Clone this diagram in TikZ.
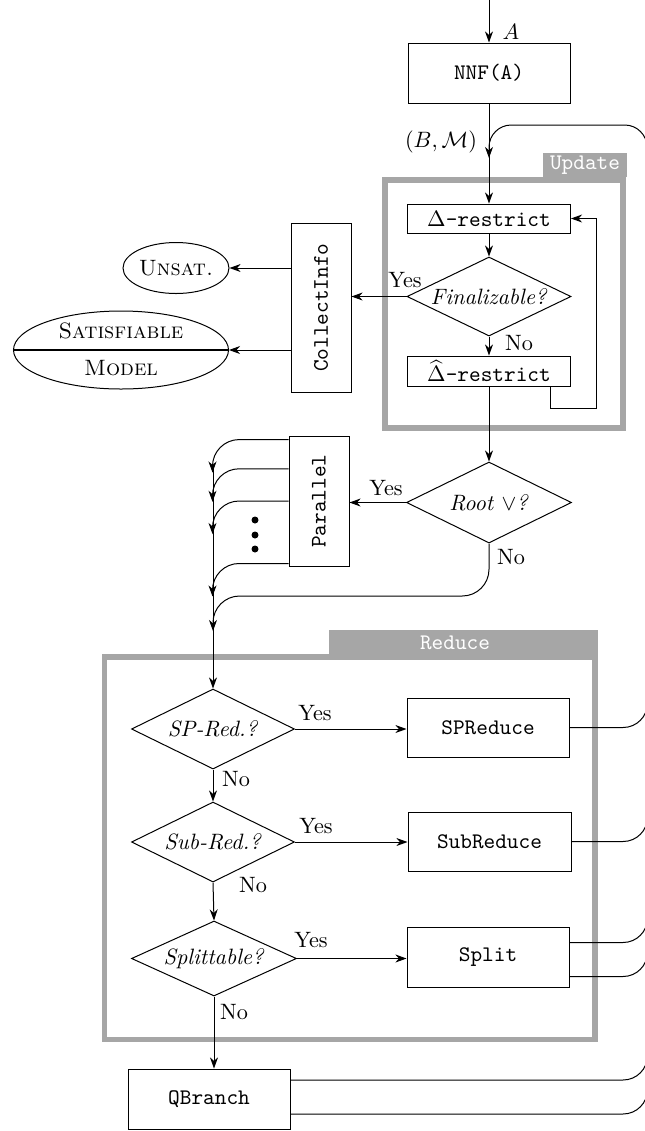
\documentclass[tikz,border=0pt]{standalone}
\usepackage{graphicx}
\usetikzlibrary{shapes.geometric,arrows.meta,calc}
\definecolor{framegray}{RGB}{166,166,166}
\def\upx{0.45pt}
\begin{document}
\begin{tikzpicture}[x=0.45pt,y=-0.45pt,
  >={Stealth[length=5pt,width=3.6pt,inset=1.6pt]},
  line width=0.45pt,
  box/.style={draw, rectangle, inner sep=0pt, font=\ttfamily},
  dia/.style={draw, diamond, inner sep=0pt},
  ell/.style={draw, ellipse, inner sep=0pt},
  frm/.style={draw=framegray, line width=2.6pt},
  tagbox/.style={fill=framegray, text=white, font=\ttfamily, inner sep=0pt},
  dot/.style={circle, fill, inner sep=0pt, minimum size=7*\upx},
]
\useasboundingbox (0,0) rectangle (645,1131);
\clip (0,0) rectangle (645,1131);

% frames
\draw[frm] (385,180) rectangle (623,428);
\node[tagbox, minimum width=84*\upx, minimum height=24*\upx] (upd) at (585,165) {Update};
\draw[frm] (104.5,657) rectangle (595,1039.5);
\fill[framegray] (329,630) rectangle (598,655);
\node[font=\ttfamily, text=white, inner sep=0pt] (red) at (455,643) {Reduce};

% nodes
\node[box, minimum width=162*\upx, minimum height=60*\upx] (nnf) at (489,73) {NNF(A)};
\node[box, minimum width=163*\upx, minimum height=29*\upx] (dr) at (489,218.5) {$\Delta$-restrict};
\node[dia, minimum width=164*\upx, minimum height=79*\upx] (fin) at (489,296.5) {\makebox[0pt]{\textit{Finalizable?}}};
\node[box, minimum width=163*\upx, minimum height=30*\upx] (drh) at (489,371) {$\widehat{\Delta}$-restrict};
\node[box, minimum width=60*\upx, minimum height=169*\upx] (col) at (321,307.5) {\rotatebox{90}{CollectInfo}};
\node[ell, minimum width=106*\upx, minimum height=51*\upx] (uns) at (176,268) {\makebox[0pt]{\textsc{Unsat.}}};
\node[ell, minimum width=215*\upx, minimum height=78*\upx] (sat) at (121,350) {};
\draw[line width=0.8pt] (sat.west) -- (sat.east);
\node (satt) at (121,331) {\textsc{Satisfiable}};
\node (satm) at (121,368) {\textsc{Model}};

\node[dia, minimum width=165*\upx, minimum height=81*\upx] (root) at (489,502.5) {\makebox[0pt]{\textit{Root} $\vee$\textit{?}}};
\node[box, minimum width=60*\upx, minimum height=130*\upx] (par) at (319,501) {\rotatebox{90}{Parallel}};
\node[dot] (d1) at (255,520) {};
\node[dot] (d2) at (255,535) {};
\node[dot] (d3) at (255,549) {};

\node[dia, minimum width=163*\upx, minimum height=80*\upx] (sp) at (213,729) {\makebox[0pt]{\textit{SP-Red.?}}};
\node[box, minimum width=162*\upx, minimum height=59*\upx] (spr) at (488,727.5) {SPReduce};
\node[dia, minimum width=163*\upx, minimum height=80*\upx] (sub) at (213,842) {\makebox[0pt]{\textit{Sub-Red.?}}};
\node[box, minimum width=163*\upx, minimum height=59*\upx] (subr) at (489.5,841.5) {SubReduce};
\node[dia, minimum width=165*\upx, minimum height=75*\upx] (spl) at (214,958.5) {\makebox[0pt]{\textit{Splittable?}}};
\node[box, minimum width=162*\upx, minimum height=60*\upx] (split) at (488,957.5) {Split};
\node[box, minimum width=162*\upx, minimum height=60*\upx] (qb) at (209,1099) {QBranch};

% labels
\node (lA) at (511,32) {$A$};
\node (lBM) at (441,142) {$(B,\mathcal{M})$};
\node (yfin) at (405,280) {Yes};
\node (nfin) at (519,343) {No};
\node (yroot) at (386,488) {Yes};
\node (nroot) at (511,557) {No};
\node (ysp) at (315,713) {Yes};
\node (nsp) at (236,779) {No};
\node (ysub) at (316,826) {Yes};
\node (nsub) at (253,885) {No};
\node (yspl) at (311,940) {Yes};
\node (nspl) at (234,1012) {No};

% connectors
\coordinate (in) at (489,0);
\draw[->] (in) -- (nnf.north);
\draw[->] (nnf.south) -- (dr.north);
\coordinate (fbtop) at (647,300);
\draw[->, rounded corners=10pt] (fbtop) -- (647,125) -- (489,125) -- (489,158);
\draw[->] (dr.south) -- (fin.north);
\draw[->] (fin.south) -- (drh.north);
\draw[->] ($(drh.south)+(61,0)$) |- (596,408) |- (dr.east);
\draw[->] (fin.west) -- (fin.west -| col.east);
\draw[->] (col.west |- uns.east) -- (uns.east);
\draw[->] (col.west |- sat.east) -- (sat.east);
\draw[->] (drh.south) -- (root.north);
\draw[->] (root.west) -- (root.west -| par.east);
\draw[->, rounded corners=12pt] (root.south) |- (213,596) -- (213,631);
\foreach \f in {0.031,0.254,0.5,0.977}
  \draw[->, rounded corners=12pt] ($(par.north west)!\f!(par.south west)$) -| ++(-76,33);
\coordinate (mtop) at (213,467);
\draw[->] (mtop) -- (sp.north);
\draw[->] (sp.east) -- (sp.east -| spr.west);
\draw[->] (sp.south) -- (sub.north);
\draw[->] (sub.east) -- (sub.east -| subr.west);
\draw[->] (sub.south) -- (spl.north);
\draw[->] (spl.east) -- (spl.east -| split.west);
\draw[->] (spl.south) -- (spl.south |- qb.north);

% returns (leave the picture to the right)
\draw[rounded corners=11pt] (spr.east) -- ++(78,0) -- ++(0,-120);
\draw[rounded corners=11pt] (subr.east) -- ++(76,0) -- ++(0,-120);
\draw[rounded corners=11pt] ($(split.east)+(0,-15)$) -- ++(78,0) -- ++(0,-120);
\draw[rounded corners=11pt] ($(split.east)+(0,19)$) -- ++(78,0) -- ++(0,-120);
\draw[rounded corners=11pt] ($(qb.east)+(0,-19)$) -- ++(357,0) -- ++(0,-120);
\draw[rounded corners=11pt] ($(qb.east)+(0,15)$) -- ++(357,0) -- ++(0,-120);
\end{tikzpicture}
\end{document}
